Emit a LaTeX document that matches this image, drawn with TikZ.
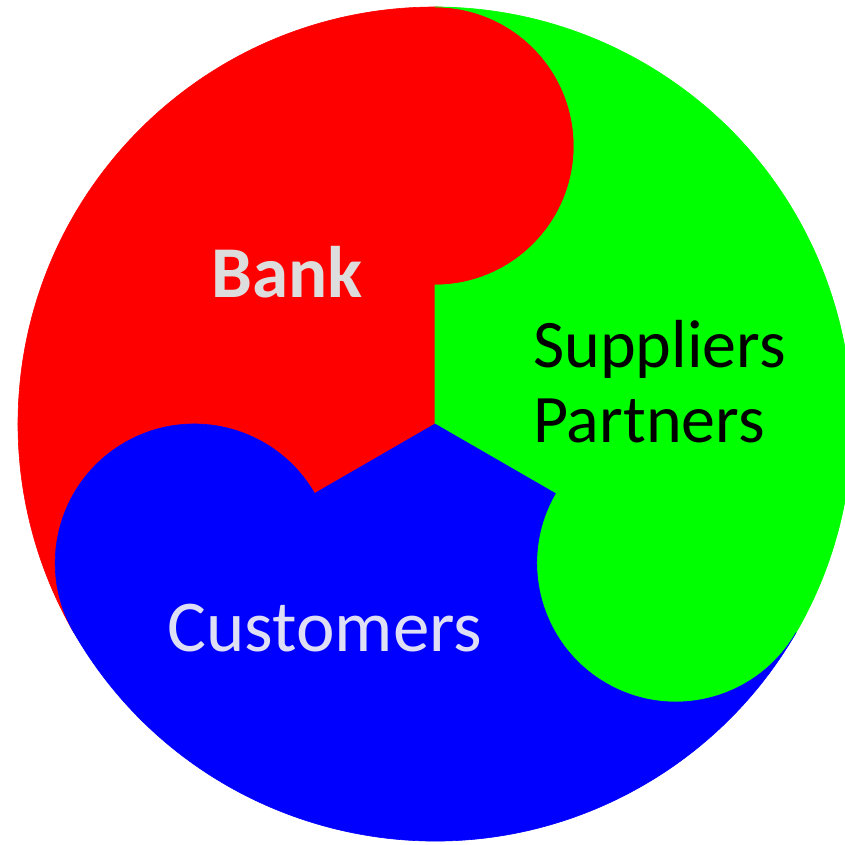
\documentclass[tikz,border=0pt]{standalone}
\usepackage{fontspec}
\setmainfont{Carlito}
\definecolor{bankred}{RGB}{255,0,0}
\definecolor{partnergreen}{RGB}{0,255,0}
\definecolor{custblue}{RGB}{0,0,255}
\definecolor{lightlabel}{RGB}{221,221,221}
\definecolor{lightblue}{RGB}{222,222,245}

\begin{document}
\begin{tikzpicture}[lbl/.style={inner sep=0pt,font=\fontsize{68}{80}\selectfont}]
   \useasboundingbox (-435pt,-421pt) rectangle (409pt,424pt);
   \foreach \ang/\col in {0/bankred,-120/partnergreen,120/custblue}
     \fill[\col,draw=\col,line width=.6pt,rotate=\ang] (0,0) -- (90:139pt)
       arc[start angle=-90,end angle=90,radius=139pt]
       arc[start angle=90,end angle=210,radius=417pt]
       arc[start angle=210,end angle=30,radius=139pt] -- cycle;
   \node[lbl,anchor=base,text=lightlabel,font=\bfseries\fontsize{73}{84}\selectfont] (bank) at (-148pt,126pt) {Bank};
   \node[lbl,anchor=base west] (suppliers) at (98pt,56pt) {Suppliers};
   \node[lbl,anchor=base west] (partners) at (98pt,-19pt) {Partners};
   \node[lbl,anchor=base,text=lightblue,font=\fontsize{73}{84}\selectfont] (customers) at (-110pt,-227pt) {Customers};
\end{tikzpicture}
\end{document}
